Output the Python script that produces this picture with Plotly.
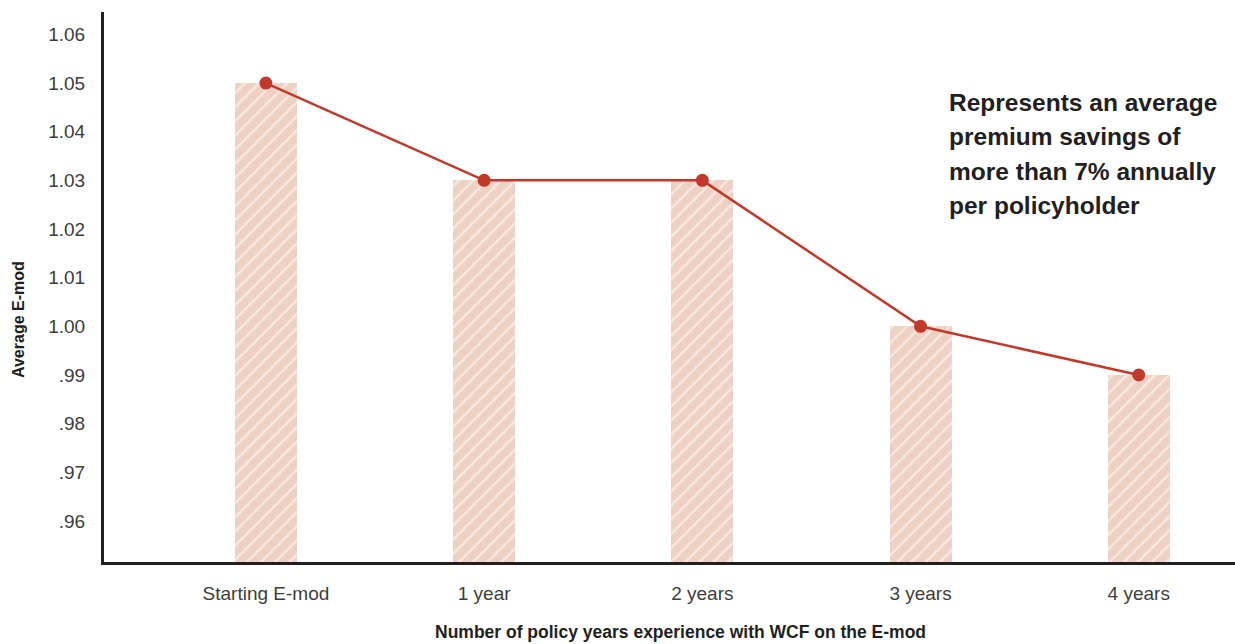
import plotly.graph_objects as go

categories = ["Starting E-mod", "1 year", "2 years", "3 years", "4 years"]
emod_values = [1.05, 1.03, 1.03, 1.00, 0.99]
tick_values = [0.96, 0.97, 0.98, 0.99, 1.00, 1.01, 1.02, 1.03, 1.04, 1.05, 1.06]
tick_labels = [".96", ".97", ".98", ".99", "1.00", "1.01", "1.02", "1.03", "1.04", "1.05", "1.06"]
note_lines = ["Represents an average", "premium savings of", "more than 7% annually", "per policyholder"]

x_idx = list(range(len(categories)))
BOLD_FONT = "Liberation Sans Narrow, Arial Narrow, Liberation Sans"
TICK_FONT = dict(family="Liberation Sans, Arial", size=19, color="#3d3d3d")

fig = go.Figure()
fig.add_trace(go.Bar(
    x=x_idx, y=emod_values, width=0.284,
    marker=dict(color="#efd1c3", line=dict(width=0),
                pattern=dict(shape="/", fgcolor="#ffffff", bgcolor="#efd1c3",
                             size=10, solidity=0.22, fillmode="overlay")),
    hoverinfo="skip", showlegend=False,
))
fig.add_trace(go.Scatter(
    x=x_idx, y=emod_values, mode="lines+markers",
    line=dict(color="#c0392b", width=2.5),
    marker=dict(color="#c0392b", size=13),
    showlegend=False,
))

# note text, one annotation per line to match line spacing
line_centers_px = [102, 136.5, 171, 205.5]
for txt, ypx in zip(note_lines, line_centers_px):
    fig.add_annotation(
        xref="paper", yref="paper", x=(947 - 104) / 1131, y=(562 - ypx) / 550,
        xanchor="left", yanchor="middle", showarrow=False, text=txt,
        font=dict(family=BOLD_FONT, size=24.5, color="#231f20", weight="bold"),
    )

# axis titles
fig.add_annotation(
    xref="paper", yref="paper", x=(680 - 104) / 1131, y=(562 - 632) / 550,
    xanchor="center", yanchor="middle", showarrow=False,
    text="Number of policy years experience with WCF on the E-mod",
    font=dict(family=BOLD_FONT, size=17.5, color="#231f20", weight="bold"),
)
fig.add_annotation(
    xref="paper", yref="paper", x=(18 - 104) / 1131, y=(562 - 320) / 550,
    xanchor="center", yanchor="middle", showarrow=False, textangle=-90,
    text="Average E-mod",
    font=dict(family=BOLD_FONT, size=16, color="#231f20", weight="bold"),
)

fig.update_layout(
    width=1235, height=644,
    margin=dict(l=104, r=0, t=12, b=82),
    paper_bgcolor="white", plot_bgcolor="white",
    font=dict(family="Liberation Sans, Arial", color="#3d3d3d", size=19),
    bargap=0,
    xaxis=dict(
        range=[-0.742, 4.441], tickvals=x_idx, ticktext=categories,
        showgrid=False, zeroline=False, showline=True, linecolor="#231f20", linewidth=3,
        ticks="", ticklabelstandoff=12, tickfont=TICK_FONT,
    ),
    yaxis=dict(
        range=[0.95157, 1.0646], tickvals=tick_values, ticktext=tick_labels,
        showgrid=False, zeroline=False, showline=True, linecolor="#231f20", linewidth=3,
        ticks="", ticklabelstandoff=12, tickfont=TICK_FONT,
    ),
)

fig.write_html("out.html")
